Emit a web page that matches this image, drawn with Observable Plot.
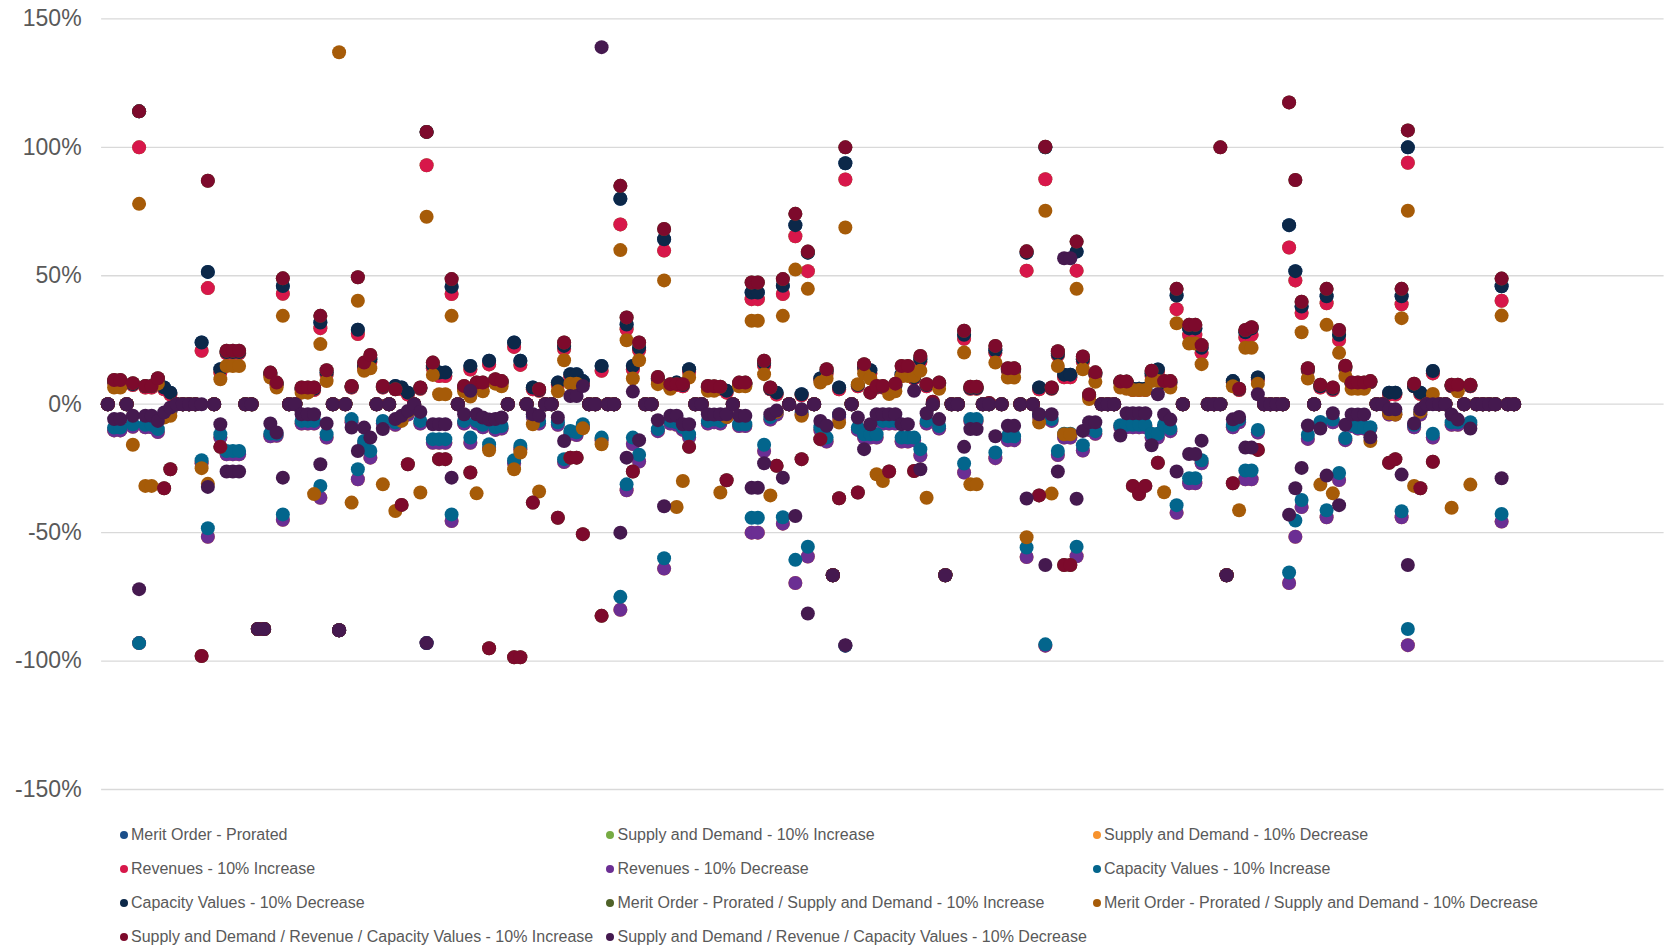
<!DOCTYPE html>
<html><head><meta charset="utf-8">
<script src="https://cdn.jsdelivr.net/npm/d3@7"></script>
<script src="https://cdn.jsdelivr.net/npm/@observablehq/plot@0.6"></script>
<style>
body{margin:0;background:#fff;font-family:"Liberation Sans",Arial,sans-serif;}
#chart svg{display:block}
#legend{display:grid;grid-template-columns:486.5px 486.5px auto;padding:5.5px 0 0 119.5px;}
.item{height:34px;display:flex;align-items:center;font-size:16px;color:#595959;white-space:nowrap}
.dot{width:8px;height:8px;border-radius:50%;margin-right:3.5px;flex:none}
</style></head><body>
<div id="chart"></div><div id="legend"></div>
<script>
const seriesNames = [
  "Merit Order - Prorated",
  "Supply and Demand - 10% Increase",
  "Supply and Demand - 10% Decrease",
  "Revenues - 10% Increase",
  "Revenues - 10% Decrease",
  "Capacity Values - 10% Increase",
  "Capacity Values - 10% Decrease",
  "Merit Order - Prorated / Supply and Demand - 10% Increase",
  "Merit Order - Prorated / Supply and Demand - 10% Decrease",
  "Supply and Demand / Revenue / Capacity Values - 10% Increase",
  "Supply and Demand / Revenue / Capacity Values - 10% Decrease"
];
const seriesColors = ["#1B4F8A","#77AB43","#F7922D","#D7174A","#6B2E93","#03658C","#0C2849","#4F6228","#A65B08","#7D0A2C","#45194F"];
const yTicks = [-150,-100,-50,0,50,100,150];

// values in %, one per case (x = 1..226)
const revInc = [
0,8.5,8.5,0,7.5,100,6.5,6.5,9.3,5.8,
3.8,0,0,0,0,20.8,45.2,0,12.3,19.8,
19.8,19.8,0,0,-87.5,-87.5,11.5,7.5,43,0,
0,5.5,5.5,5.5,29.6,11.5,0,-88,0,6.5,
27.3,14,16.5,0,6.5,0,6.3,5.8,3.8,0,
6,93,14,11,11,42.9,0,6.3,13.5,7.8,
7.8,15.5,9,8.4,0,22.3,15.3,0,5.8,5.2,
0,0,7.5,21.5,10.5,10.5,8,0,0,13,
0,0,70,29.2,13.5,21,0,0,9.5,59.8,
6.5,7.5,7,12.5,0,0,6.5,6.5,6,4.5,
0,8,8,40.9,40.9,15,5.8,3.8,42.9,0,
65.4,3.5,51.8,0,9.5,12,-66.6,5.8,87.5,0,
7,14,12,6.5,6.5,5.5,7,11,14,10,
16.5,7,0,8,-66.6,0,0,25.5,6,6,
0,0,20,0,13,13,0,52,0,5.8,
87.6,6,19,10.5,10.5,52,16.5,3,11.5,0,
0,0,8.5,8.5,5.5,5.5,5.5,11,12.5,8,
8,37,0,26.9,26.9,20,0,0,0,-66.6,
8.5,5.5,26,27,9.5,0,0,0,0,61,
48.2,35.5,13,0,6.5,39.3,5.5,25,14,8,
8,8,8.5,0,0,3.8,3.8,38.9,94,7,
4,0,12,0,0,7,7,0,7,0,
0,0,0,40.3,0,0];

const revDec = [
0,-10.2,-10.2,0,-8.8,-93,-9,-9,-10.8,-5,
-3,0,0,0,0,-23,-51.6,0,-13,-19.5,
-19.5,-19.5,0,0,-87.5,-87.5,-12.5,-12.3,-45,0,
0,-7.5,-7.5,-7.5,-36.4,-13,0,-88,0,-7,
-29.2,-15.5,-20.8,0,-7.5,0,-8,-6,-4,0,
-7.5,-93,-15,-15,-15,-45.5,0,-7.5,-15,-7.5,
-9,-17,-10,-9.5,0,-23,-17.5,0,-5,-7.5,
0,0,-8,-22.5,-11.5,-12,-9,0,0,-14,
0,0,-80,-33.5,-15.5,-22.3,0,0,-10.5,-64,
-7.5,-8,-10,-13,0,0,-7.5,-7,-7.5,-5,
0,-8.5,-8.5,-50,-50,-18.2,-6,-4,-46.5,0,
-69.6,-4,-59.3,0,-10,-14.5,-66.6,-5,-94,0,
-10,-13,-13,-13,-7.5,-7.5,-7.5,-14.5,-14.5,-14,
-20,-7.5,0,-9.5,-66.6,0,0,-26.6,-6.5,-6.5,
0,0,-21,0,-14,-14,0,-59.5,0,-5,
-94,-6.5,-19.8,-13,-13,-59.2,-18,-10,-11.5,0,
0,0,-9,-9,-9,-9,-9,-13,-13,-9,
-10.5,-42.3,0,-30.8,-30.8,-23,0,0,0,-66.6,
-9,-7,-29.2,-29.2,-11,0,0,0,0,-69.6,
-51.6,-40,-13.5,0,-7.5,-44,-7,-29.5,-14,-8.5,
-9.5,-9.5,-9.5,0,0,-4,-4,-44,-93.8,-9,
-4,0,-13,0,0,-8,-8,0,-8,0,
0,0,0,-45.7,0,0];

const capInc = [
0,-9.1,-9.1,0,-7.8,-93,-8,-8,-9.7,-4,
-2,0,0,0,0,-21.8,-48.3,0,-11.7,-18.2,
-18.2,-18.2,0,0,-87.5,-87.5,-11.4,-11.5,-42.9,0,
0,-6.5,-6.5,-6.5,-31.8,-11.7,0,-88,0,-5.8,
-25.3,-14.3,-18.2,0,-6.5,0,-7,-5,-3,0,
-6.5,-93,-13.6,-13.6,-13.6,-42.9,0,-6.5,-13,-6.5,
-8,-15.6,-9,-8.5,0,-21.8,-16.2,0,-4,-6.5,
0,0,-7,-21.4,-10.4,-10.9,-7.8,0,0,-13,
0,0,-75,-31.2,-13,-19.7,0,0,-9.7,-60,
-6.5,-7,-9,-11.7,0,0,-6.5,-6,-6.5,-4.5,
0,-7.8,-7.8,-44.2,-44.2,-15.8,-5,-3,-44,0,
-60.6,-3,-55.5,0,-9,-13,-66.6,-4,-94,0,
-9.1,-11.7,-11.7,-11.7,-6.5,-6.5,-6.5,-13,-13,-13,
-17.5,-6.5,0,-8.5,-66.6,0,0,-23.1,-5.8,-5.8,
0,0,-18.8,0,-12.5,-12.5,0,-55.8,0,-4,
-93.5,-5.8,-18.2,-11.5,-11.5,-55.5,-16,-9,-10.5,0,
0,0,-8.2,-8,-8,-8,-8,-11.5,-11.5,-8,
-9.5,-39.3,0,-28.8,-28.8,-21.8,0,0,0,-66.6,
-8,-6,-25.8,-25.8,-10,0,0,0,0,-65.5,
-45.3,-37.3,-11.9,0,-6.9,-41.3,-6,-26.8,-13.2,-8,
-9,-9,-9,0,0,-3,-3,-41.7,-87.5,-8,
-3,0,-11.5,0,0,-7,-7,0,-7,0,
0,0,0,-42.7,0,0];

const capDec = [
0,9,9,0,7.8,114,7,7,9.8,6.5,
4.5,0,0,0,0,24,51.5,0,13.6,20.3,
20.3,20.3,0,0,-87.5,-87.5,11.9,8,46,0,
0,6,6,6,31.8,12.3,0,-88,0,6.8,
29,15,17.5,0,6.8,0,7.1,6.5,4.5,0,
6.3,106,15,12.3,12.3,45.7,0,6.5,14.9,8,
8,16.9,9.3,8.7,0,24,16.9,0,6.5,5.5,
0,0,8.4,22.7,11.7,11.7,9,0,0,14.9,
0,0,80,31,14.9,22,0,0,10,64.2,
7,8.4,7.5,13.6,0,0,6.8,6.6,6.3,5.2,
0,8,8,43.5,43.5,16,6,4.5,46.1,0,
69.7,3.9,59,0,10,13,-66.6,6.5,93.8,0,
7.5,14.5,13.2,6.8,6.8,6,7.5,11.7,14.5,10.5,
17.5,7.5,0,8.2,-66.6,0,0,27,6.3,6.3,
0,0,21,0,13.5,13.5,0,59,0,6.5,
100,6.2,19.5,11.5,11.5,59.4,17.5,3.3,12,0,
0,0,8.7,8.7,6,6,6,12,13.5,8.5,
8.5,42.3,0,29.5,29.5,22,0,0,0,-66.6,
9,5.8,28,29.5,10.4,0,0,0,0,69.7,
51.8,38,13.5,0,7,42,6,27,14.5,8.2,
8.2,8.2,8.7,0,0,4.5,4.5,42,100,7,
4.5,0,12.9,0,0,7.2,7.2,0,7.2,0,
0,0,0,45.9,0,0];

const moSdDec = [
0,6.5,6.5,0,-15.8,78,-31.8,-31.8,8,-5.2,
-4.5,0,0,0,0,-24.9,-31,0,9.7,14.9,
14.9,14.9,0,0,-87.5,-87.5,10.4,6.5,34.4,0,
0,4.5,4.5,-35,23.4,9,0,137,0,-38.3,
40.3,13,14,0,-31.2,0,-41.6,-6.5,-3,0,
-34.4,73,11.4,3.9,3.9,34.4,0,5,3,-34.7,
5,-17.9,8,7,0,-25.3,-18.8,0,-7.8,-34,
0,0,5,17.1,8,8,-9.4,0,0,-15.6,
0,0,60,24.9,10,17.1,0,0,7.8,48.2,
6,-40,-29.9,10.4,0,0,5.2,5.2,-34.4,-5,
0,7,7,32.5,32.5,11.7,-35.5,-3,34.4,0,
52.4,-4.5,44.9,0,8.4,10,-66.6,-7.1,68.8,0,
7.8,12,10,-27.3,-29.9,4,5,11,11,11,
13,-36.4,0,6,-66.6,0,0,20.1,-31.2,-31.2,
0,0,16.2,0,10.4,10.4,0,-51.8,0,-7.1,
75.3,-34.8,14.9,-11.7,-11.7,44.9,13.6,2,8.7,0,
0,0,6.5,6,5.5,5.5,5.5,9,9,-34.3,
6.5,31.5,0,23.6,23.6,15.6,0,0,0,-66.6,
7,-41.3,22,22,8,0,0,0,0,null,
null,28,10,0,-31.3,30.9,-34.7,20,11,6,
6,6,-14.3,0,0,-3.5,-4,33.5,75.3,-31.8,
-3,0,4,0,0,-40.3,5,0,-31.3,0,
0,0,0,34.5,0,0];

const sdrcInc = [
0,9.4,9.4,0,8.2,114,7.1,7.1,10.1,-32.7,
-25.3,0,0,0,0,-98,87,0,-16.6,20.8,
20.8,20.8,0,0,-87.5,-87.5,12.3,8.4,49,0,
0,6.5,6.5,6.5,34.4,13.2,0,-88,0,7.1,
49.4,16.2,19.2,0,7.1,0,5.8,-39.2,-23.4,0,
6.5,106,16.2,-21.4,-21.4,48.7,0,7.1,-26.6,8.4,
8.4,-95,9.7,9,0,-98.5,-98.5,0,-38.3,5.8,
0,0,-44.2,24,-20.8,-20.8,-50.6,0,0,-82.4,
0,0,85,33.8,-26.2,24,0,0,10.6,68.2,
7.8,7.8,7.8,-16.6,0,0,7.1,7,6.8,-29.6,
0,8.4,8.4,47.4,47.4,16.9,6.5,-24,48.7,0,
74.1,-21.4,59.4,0,-13.6,13.6,-66.6,-36.6,100,0,
-34.4,15.6,4.5,7.1,7.1,-26.2,8,14.9,14.9,-26,
18.8,7.8,1,8.4,-66.6,0,0,28.6,6.8,6.8,
0,0.5,22.7,0,14,14,0,59.5,0,-35.5,
100.2,6.5,20.6,-62.6,-62.6,63.3,18.6,3.8,12.4,0,
0,0,8.8,8.8,-31.8,-35,-31.8,13,-22.8,9,
9,44.9,0,30.9,30.9,23,0,0,100,-66.6,
-30.8,6,28.9,30,-17.8,0,0,0,0,117.5,
87.3,39.9,14,0,7.6,44.9,6.5,28.9,15,8.4,
8.4,8.4,9,0,0,-22.8,-21.4,44.9,106.6,8,
-32.7,0,-22.4,0,0,7.6,7.6,0,7.6,0,
0,0,0,48.9,0,0];

const sdrcDec = [
0,-5.8,-5.8,0,-4.5,-72,-4.5,-4.5,-6.5,-3.2,
-1.3,0,0,0,0,0,-32.2,0,-7.8,-26.2,
-26.2,-26.2,0,0,-87.5,-87.5,-7.5,-11,-28.6,0,
0,-3.9,-3.9,-3.9,-23.4,-7.5,0,-88,0,-9.1,
-18.2,-9.1,-13,0,-9.7,0,-5.8,-4.5,-2.6,0,
-3,-93,-7.8,-7.8,-7.8,-28.6,0,-3.9,5.2,-3.9,
-5.2,-6,-5.8,-5.2,0,null,null,0,-3.9,-4.5,
0,0,-5.2,-14.3,3.2,3.2,7.1,0,0,139,
0,0,-50,-20.8,4.9,-14,0,0,-6.2,-39.7,
-4.5,-4.5,-7.8,-7.8,0,0,-3.9,-4,-3.9,-3.9,
0,-4.5,-4.5,-32.5,-32.5,-23,-3.9,-2.5,-28.6,0,
-43.5,-2,-81.5,0,-6.5,-8.4,-66.6,-3.9,-93.8,0,
-5.2,-17.5,-7.8,-3.9,-3.9,-3.9,-3.9,-7.8,-7.8,5.2,
-25.3,-3.5,0,-5.8,-66.6,0,0,-16.6,-9.7,-9.7,
0,0,-12.5,0,-8.4,-8.4,0,-36.7,0,-3.9,
-62.6,-3.9,-26.2,56.8,56.8,-36.8,-10.4,-7,-7,0,
0,0,-12.2,-3.5,-3.5,-3.5,-3.5,-16,3.9,-4,
-6,-26.2,0,-19.4,-19.4,-14.2,0,0,0,-66.6,
-5.9,-5,-16.9,-16.9,3.9,0,0,0,0,-43,
-32.7,-24.8,-8.3,0,-9.5,-27.8,-3.5,-39.3,-8,-4,
-4,-4,-12.9,0,0,-2,-2,-27.4,-62.6,-7.5,
-2,0,0,0,0,-4,-6,0,-9.5,0,
0,0,0,-28.8,0,0];

// series hidden under later-drawn ones in the original (identical values)
const meritOrder = capDec;
const sdInc = revInc;
const sdDec = revDec;
const moSdInc = sdrcInc;

const seriesValues = [meritOrder, sdInc, sdDec, revInc, revDec, capInc, capDec, moSdInc, moSdDec, sdrcInc, sdrcDec];
seriesValues.forEach((a, k) => { if (a.length !== 226) throw new Error("length " + k + " = " + a.length); });

const rows = [];
seriesValues.forEach((vals, k) => vals.forEach((v, i) => {
  if (v !== null) rows.push({x: i + 1, y: v, series: seriesNames[k]});
}));

const chart = Plot.plot({
  width: 1669,
  height: 812,
  marginLeft: 101.1,
  marginRight: 5.4,
  marginTop: 18.4,
  marginBottom: 23,
  style: {fontFamily: '"Liberation Sans", Arial, sans-serif', color: "#595959", background: "#fff"},
  x: {domain: [0, 250], axis: null},
  y: {domain: [-150, 150], label: null},
  color: {domain: seriesNames, range: seriesColors},
  marks: [
    Plot.ruleY(yTicks, {stroke: "#d9d9d9", strokeWidth: 1.3}),
    Plot.axisY(yTicks, {tickSize: 0, tickPadding: 20, fontSize: 23, tickFormat: d => d + "%", label: null}),
    Plot.dot(rows, {x: "x", y: "y", fill: "series", r: 7, stroke: null})
  ]
});
document.getElementById("chart").appendChild(chart);

const legend = document.getElementById("legend");
seriesNames.forEach((name, k) => {
  const item = document.createElement("div");
  item.className = "item";
  const dot = document.createElement("span");
  dot.className = "dot";
  dot.style.background = seriesColors[k];
  item.appendChild(dot);
  item.appendChild(document.createTextNode(name));
  legend.appendChild(item);
});
</script>
</body></html>
